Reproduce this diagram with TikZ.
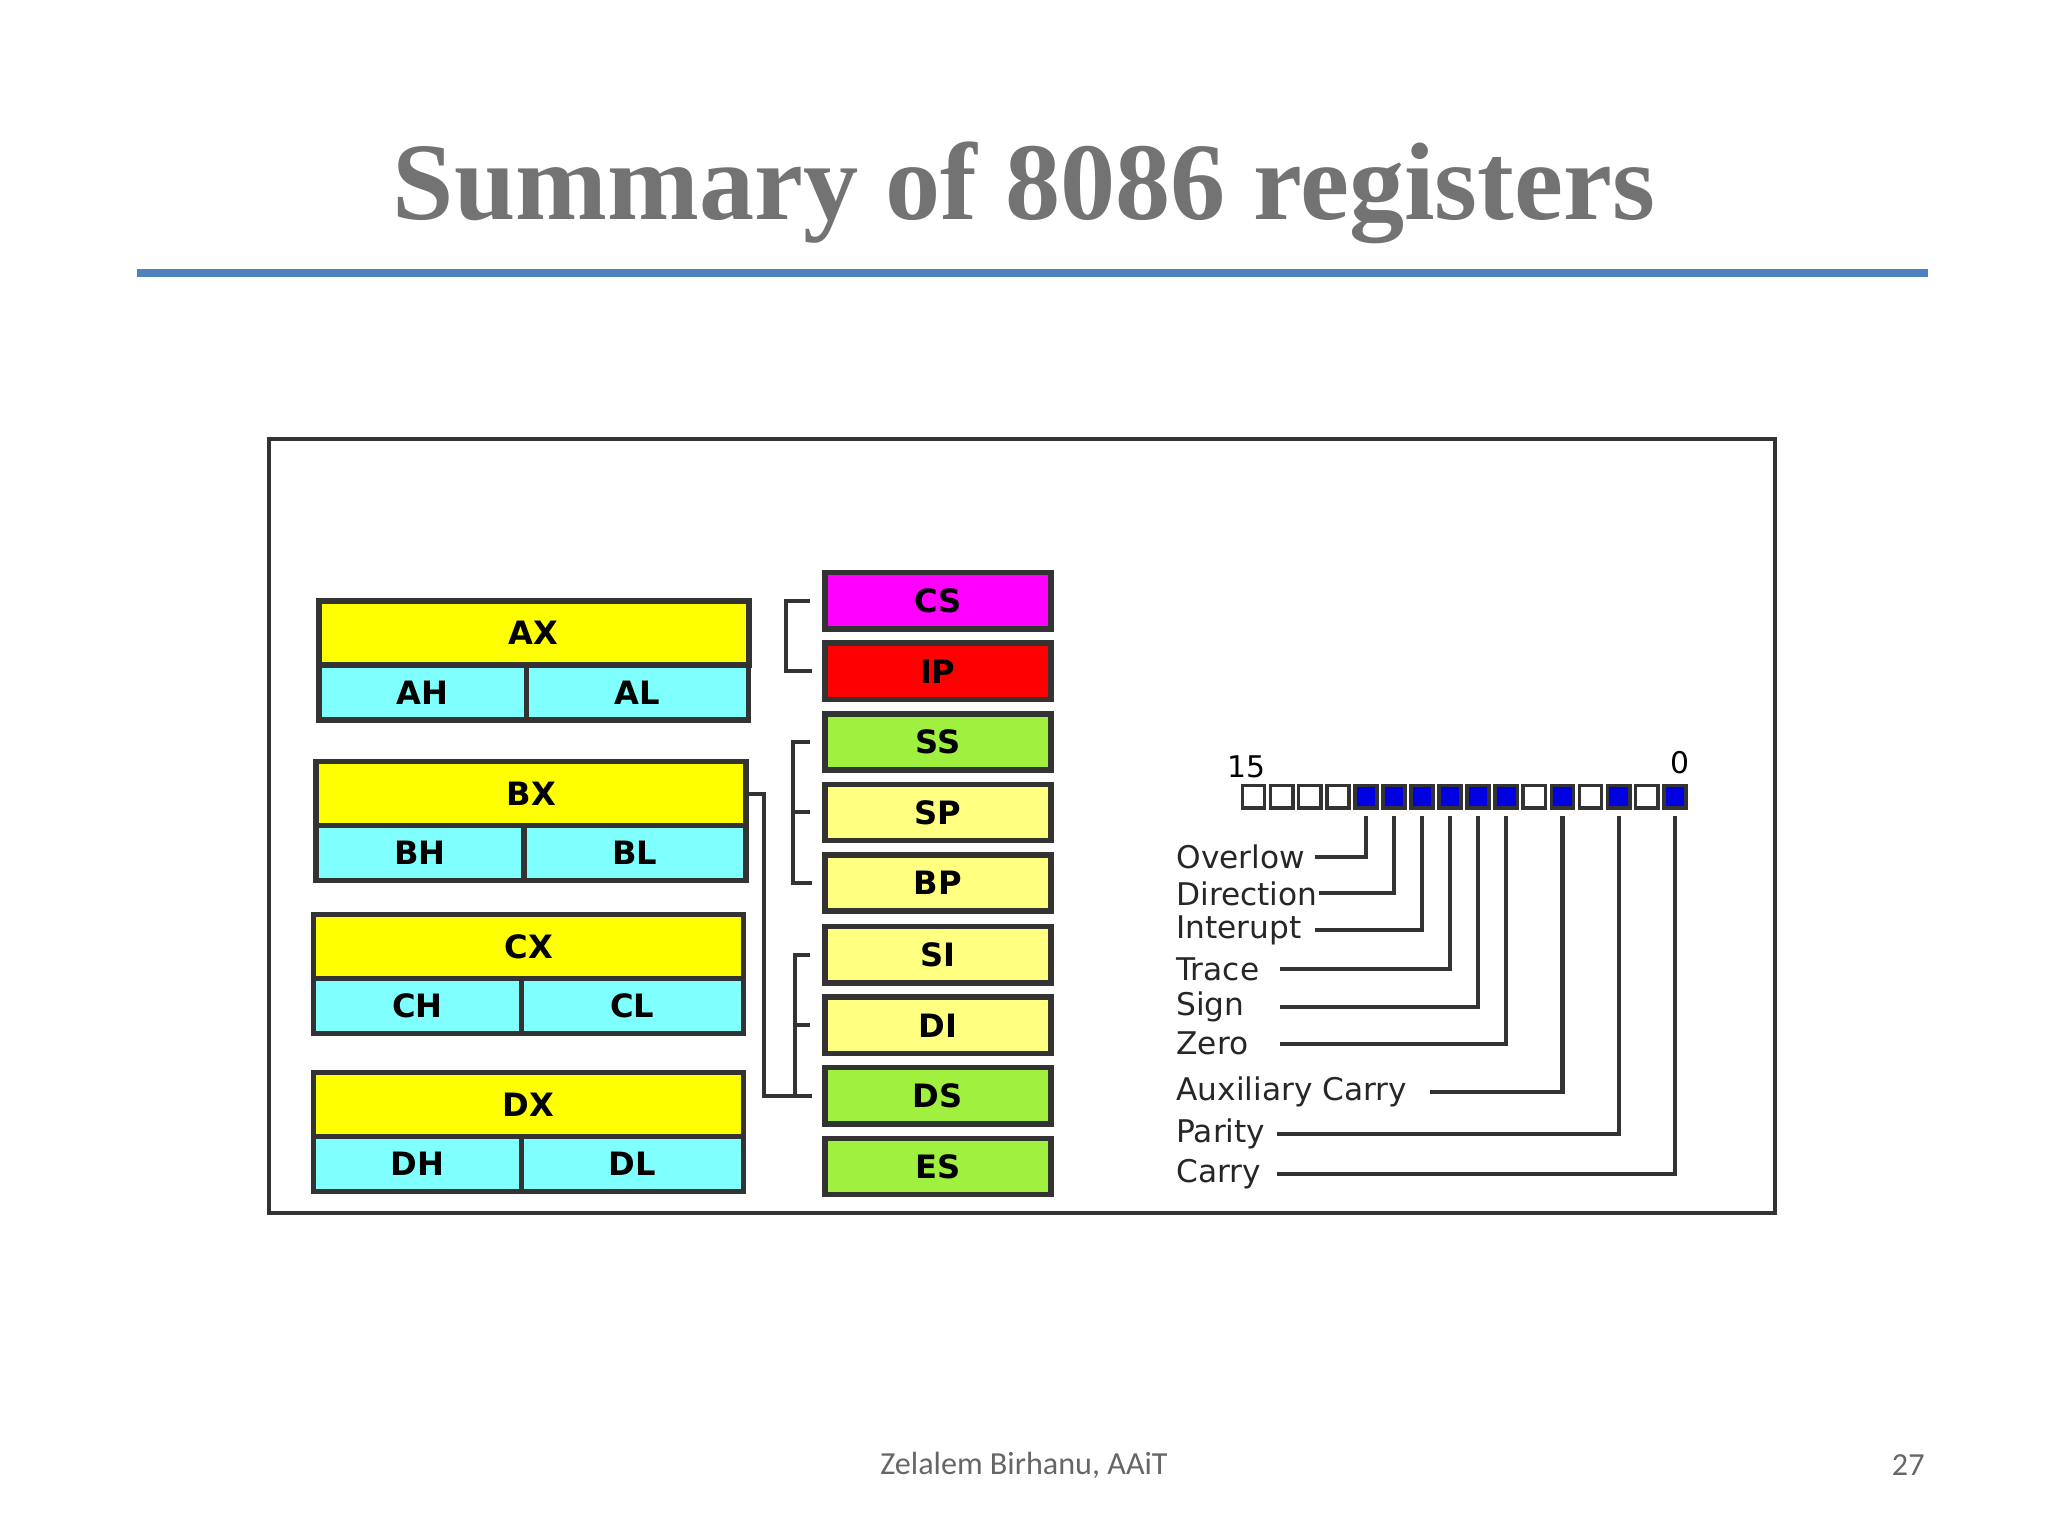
\documentclass[tikz,border=0pt]{standalone}
\usepackage{fontspec}
\setmainfont{DejaVu Sans}
\newfontfamily\ttlfont{Liberation Serif}
\newfontfamily\ftfont{Carlito}
\definecolor{rule}{HTML}{4F81BD}
\definecolor{ylw}{HTML}{FFFF00}
\definecolor{cyn}{HTML}{80FFFF}
\definecolor{grn}{HTML}{A0F040}
\definecolor{lyl}{HTML}{FFFF80}
\definecolor{mag}{HTML}{FF00FF}
\definecolor{flagblue}{HTML}{0000E0}
\begin{document}
\begin{tikzpicture}[x=0.01cm,y=-0.01cm,
  reg/.style={draw=black!80,line width=1.2pt,inner sep=0,font=\bfseries\fontsize{7}{8}\selectfont},
  seg/.style={reg,minimum width=1.73cm,minimum height=0.43cm},
  flag/.style={draw=black!80,line width=0.8pt,minimum width=0.17cm,minimum height=0.17cm,inner sep=0},
  lab/.style={anchor=west,font=\fontsize{6.8}{7}\selectfont,inner sep=0,text=black!85},
  wire/.style={draw=black!80,line width=0.9pt}]
\useasboundingbox (0,0) rectangle (1568,1176);
\node[font=\ttlfont\bfseries\fontsize{24}{26}\selectfont,text=black!55] (title) at (784,148) {Summary of 8086 registers};
\draw[rule,line width=1.6pt] (105,209) -- (1476,209);
\draw[black!80,line width=0.9pt] (206,336) rectangle (1359,929);
% general registers
\foreach \n/\y/\x/\h/\l in {A/458/242/AH/AL,B/581/240/BH/BL,C/698/238/CH/CL,D/819/238/DH/DL}{
  \node[reg,fill=ylw,minimum width=3.29cm,minimum height=0.49cm,anchor=north west] (\n X) at (\x,\y) {\n X};
  \node[reg,fill=cyn,minimum width=1.59cm,minimum height=0.42cm,anchor=north west] (\n H) at (\x,\y+49) {\h};
  \node[reg,fill=cyn,minimum width=1.70cm,minimum height=0.42cm,anchor=north west] (\n L) at (\x+159,\y+49) {\l};
}
% segment / pointer registers
\foreach \n/\y/\c in {CS/460/mag,IP/514/red,SS/568/grn,SP/622/lyl,BP/676/lyl,SI/731/lyl,DI/785/lyl,DS/839/grn,ES/893/grn}{
  \node[seg,fill=\c] (\n) at (718,\y) {\n};
}
\coordinate (c1) at (602,460); \coordinate (c2) at (602,514);
\draw[wire] (CS.west) ++(-9,0) -- (c1) -- (c2) -- ++(20,0);
\coordinate (s1) at (607,568); \coordinate (s2) at (607,676);
\draw[wire] (SS.west) ++(-9,0) -- (s1) -- (s2) -- ++(15,0);
\draw[wire] (SP.west) ++(-9,0) -- (SP.west -| s1);
\coordinate (i1) at (609,731); \coordinate (i2) at (609,839);
\draw[wire] (SI.west) ++(-9,0) -- (i1) -- (i2) -- ++(13,0);
\draw[wire] (DI.west) ++(-9,0) -- (DI.west -| i1);
\coordinate (b1) at (585,603); \coordinate (b2) at (585,839);
\draw[wire] (BX.east) -- (BX.east -| b1) -- (b2) -- (i2);
% flags
\foreach \i in {0,...,15}{
  \pgfmathsetmacro{\cx}{959.75+21.5*\i}
  \node[flag,fill=white] (f\i) at (\cx,610) {};
}
\foreach \i in {4,5,6,7,8,9,11,13,15}{\node[flag,fill=flagblue] at (f\i) {};}
\node[font=\fontsize{6.5}{7}\selectfont] (b15) at (954,587) {15};
\node[font=\fontsize{6.5}{7}\selectfont] (b0) at (1286,584) {0};
\foreach \i/\t/\y/\e in {4/Overlow/656/1007,5/Direction/684/1010,6/Interupt/712/1007,7/Trace/742/980,8/Sign/771/980,9/Zero/799/980,11/Auxiliary Carry/836/1095,13/Parity/868/978,15/Carry/899/978}{
  \node[lab] (L\i) at (900,\y) {\t};
  \coordinate (e\i) at (\e,\y);
  \draw[wire] (f\i.south) ++(0,5) |- (e\i);
}
\node[font=\ftfont\fontsize{7}{8}\selectfont,text=black!60] (foot) at (784,1122) {Zelalem Birhanu, AAiT};
\node[font=\ftfont\fontsize{7}{8}\selectfont,text=black!60] (pg) at (1461,1122) {27};
\end{tikzpicture}
\end{document}
